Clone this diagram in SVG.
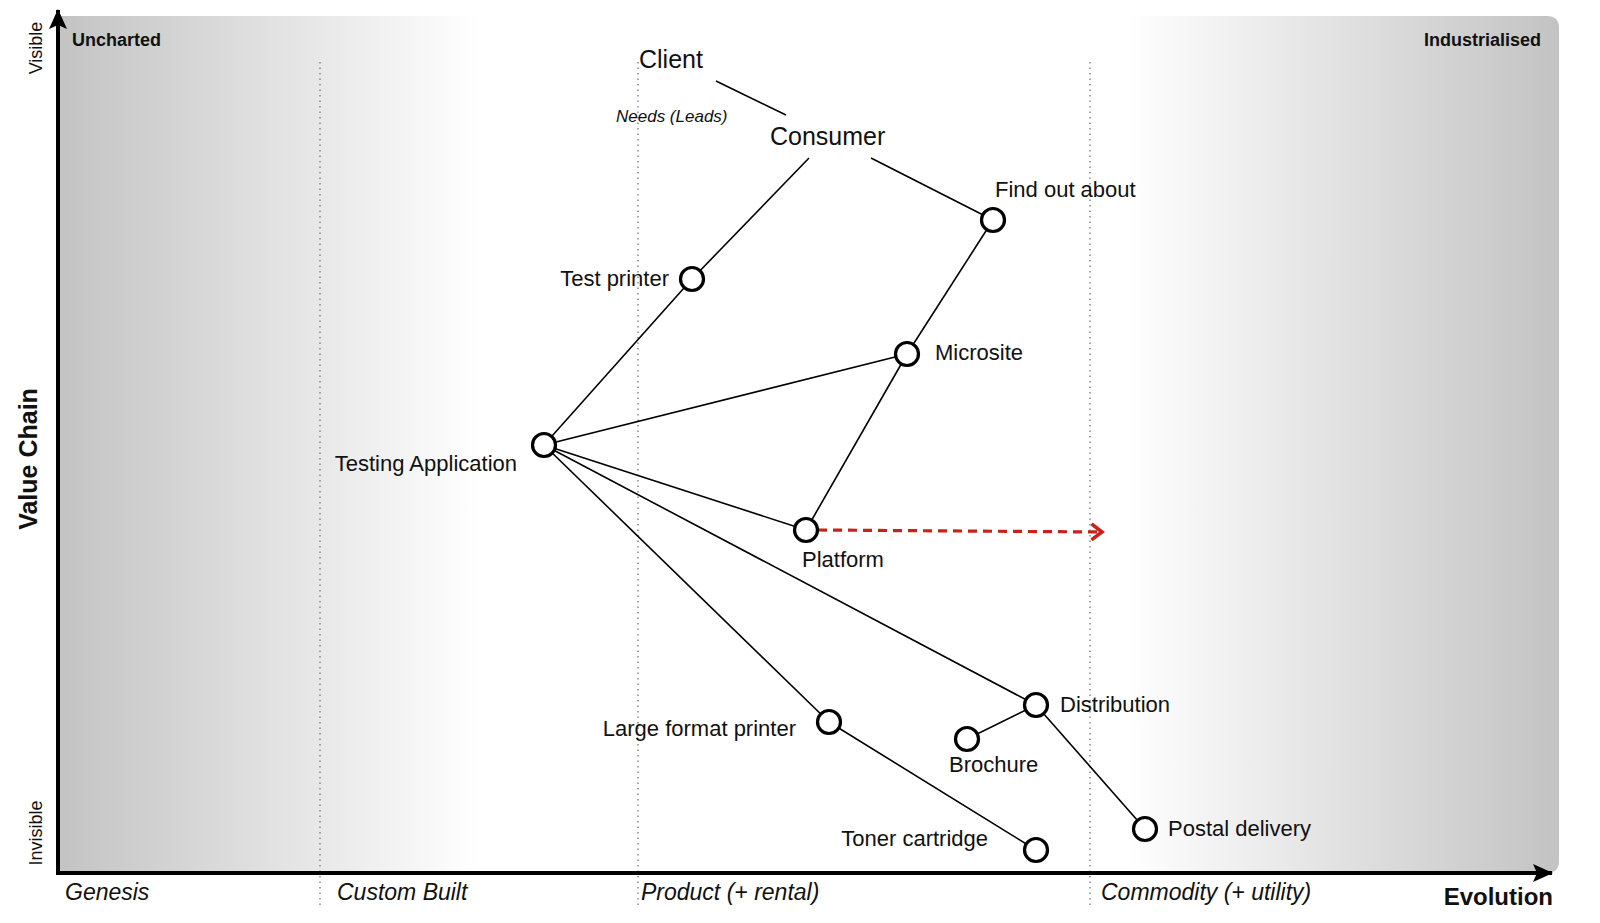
<svg xmlns="http://www.w3.org/2000/svg" width="1600" height="923" viewBox="0 0 1600 923">
<style>
  text { font-family: "Liberation Sans", Arial, sans-serif; fill: #111; }
  .lbl { font-size: 22px; }
  .big { font-size: 25px; }
  .stage { font-size: 23px; font-style: italic; }
  .corner { font-size: 18px; font-weight: bold; }
  .axis-t { font-size: 25px; font-weight: bold; }
  .side { font-size: 18px; }
  .link { stroke: #000; stroke-width: 1.6; fill: none; }
  .node { fill: #fff; stroke: #000; stroke-width: 3.2; }
  .grid { stroke: #888; stroke-width: 1.5; stroke-dasharray: 1.5 4; }
  .axis { stroke: #000; stroke-width: 4; fill: none; }
</style>
<defs>
  <linearGradient id="bg" gradientUnits="userSpaceOnUse" x1="58" y1="0" x2="1559" y2="0">
    <stop offset="0" stop-color="#c3c3c3"/>
    <stop offset="0.281" stop-color="#ffffff"/>
    <stop offset="0.711" stop-color="#ffffff"/>
    <stop offset="1" stop-color="#c3c3c3"/>
  </linearGradient>
  <marker id="tri" markerUnits="userSpaceOnUse" viewBox="0 0 20 18" refX="19" refY="9" markerWidth="20" markerHeight="18" orient="auto">
    <path d="M0,0 L20,9 L0,18 L4,9 Z" fill="#000"/>
  </marker>
  <marker id="chev" markerUnits="userSpaceOnUse" viewBox="0 0 16 20" refX="13" refY="10" markerWidth="16" markerHeight="20" orient="auto">
    <path d="M2.5,2 L13,10 L2.5,18" fill="none" stroke="#c8231b" stroke-width="3.6"/>
  </marker>
</defs>

<g id="background">
  <path d="M58,16 H1547 Q1559,16 1559,28 V861 Q1559,873 1547,873 H58 Z" fill="url(#bg)"/>
  <line class="grid" x1="320" y1="62" x2="320" y2="907"/>
  <line class="grid" x1="638" y1="62" x2="638" y2="907"/>
  <line class="grid" x1="1090" y1="62" x2="1090" y2="907"/>
</g>

<g id="axes">
  <line class="axis" x1="58" y1="875" x2="58" y2="10" marker-end="url(#tri)"/>
  <line class="axis" x1="56" y1="873" x2="1552" y2="873" marker-end="url(#tri)"/>
  <text class="corner" x="72" y="46">Uncharted</text>
  <text class="corner" x="1541" y="46" text-anchor="end">Industrialised</text>
  <text class="side" transform="translate(42,48) rotate(-90)" text-anchor="middle">Visible</text>
  <text class="side" transform="translate(42,833) rotate(-90)" text-anchor="middle">Invisible</text>
  <text class="axis-t" transform="translate(37,459) rotate(-90)" text-anchor="middle">Value Chain</text>
  <text class="stage" x="65" y="900">Genesis</text>
  <text class="stage" x="337" y="900">Custom Built</text>
  <text class="stage" x="641" y="900">Product (+ rental)</text>
  <text class="stage" x="1101" y="900">Commodity (+ utility)</text>
  <text class="axis-t" x="1553" y="905" text-anchor="end" style="font-size:24px">Evolution</text>
</g>

<g id="connectors">
  <line class="link" x1="716" y1="81" x2="786" y2="115"/>
  <line class="link" x1="809" y1="158" x2="692" y2="279"/>
  <line class="link" x1="871" y1="158" x2="993" y2="220"/>
  <line class="link" x1="993" y1="220" x2="907" y2="354"/>
  <line class="link" x1="692" y1="279" x2="544" y2="445"/>
  <line class="link" x1="544" y1="445" x2="907" y2="354"/>
  <line class="link" x1="907" y1="354" x2="806" y2="530"/>
  <line class="link" x1="544" y1="445" x2="806" y2="530"/>
  <line class="link" x1="544" y1="445" x2="1036" y2="705"/>
  <line class="link" x1="544" y1="445" x2="829" y2="722"/>
  <line class="link" x1="829" y1="722" x2="1036" y2="850"/>
  <line class="link" x1="1036" y1="705" x2="967" y2="739"/>
  <line class="link" x1="1036" y1="705" x2="1145" y2="829"/>
  <line x1="818" y1="530" x2="1102" y2="532" stroke="#c8231b" stroke-width="3.2" stroke-dasharray="9 6" marker-end="url(#chev)"/>
</g>

<g id="client"><text class="big" x="639" y="68">Client</text></g>
<g id="needs"><text x="616" y="122" style="font-size:17px;font-style:italic">Needs (Leads)</text></g>
<g id="consumer"><text class="big" x="770" y="145">Consumer</text></g>
<g id="find-out-about"><circle class="node" cx="993" cy="220" r="11.5"/><text class="lbl" x="995" y="197">Find out about</text></g>
<g id="test-printer"><circle class="node" cx="692" cy="279" r="11.5"/><text class="lbl" x="669" y="286" text-anchor="end">Test printer</text></g>
<g id="microsite"><circle class="node" cx="907" cy="354" r="11.5"/><text class="lbl" x="935" y="360">Microsite</text></g>
<g id="testing-application"><circle class="node" cx="544" cy="445" r="11.5"/><text class="lbl" x="517" y="471" text-anchor="end">Testing Application</text></g>
<g id="platform"><circle class="node" cx="806" cy="530" r="11.5"/><text class="lbl" x="802" y="567">Platform</text></g>
<g id="distribution"><circle class="node" cx="1036" cy="705" r="11.5"/><text class="lbl" x="1060" y="712">Distribution</text></g>
<g id="brochure"><circle class="node" cx="967" cy="739" r="11.5"/><text class="lbl" x="949" y="772">Brochure</text></g>
<g id="large-format-printer"><circle class="node" cx="829" cy="722" r="11.5"/><text class="lbl" x="796" y="736" text-anchor="end">Large format printer</text></g>
<g id="toner-cartridge"><circle class="node" cx="1036" cy="850" r="11.5"/><text class="lbl" x="988" y="846" text-anchor="end">Toner cartridge</text></g>
<g id="postal-delivery"><circle class="node" cx="1145" cy="829" r="11.5"/><text class="lbl" x="1168" y="836">Postal delivery</text></g>
</svg>
